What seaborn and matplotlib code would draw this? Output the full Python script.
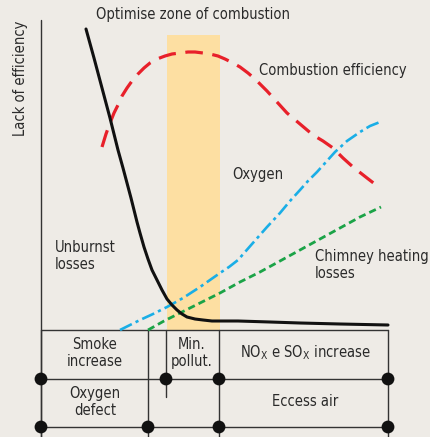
import matplotlib
matplotlib.use("Agg")
import matplotlib.pyplot as plt
import seaborn as sns

# Curve data (diagram units, y grows downward like the original sketch)
unburnt_x = [86, 94, 102, 110, 118, 123, 127, 131, 134, 137, 140, 144, 148, 152, 157, 162,
             167, 172, 177, 182, 187, 195, 203, 212, 220, 238, 270, 300, 340, 388]
unburnt_y = [29, 58, 88, 118, 150, 168, 183, 198, 210, 222, 233, 247, 259, 270, 280, 290,
             299, 305, 310, 314, 317, 319, 320, 321, 321, 321, 322, 323, 324, 325]

efficiency_x = [102, 106, 110, 114, 118, 122, 127, 132, 138, 144, 150, 157, 165, 172, 180,
                188, 195, 203, 210, 218, 225, 233, 240, 248, 255, 261, 267, 277, 287,
                300, 313, 323, 333, 343, 353, 367, 380]
efficiency_y = [147, 134, 123, 113, 105, 96, 88, 81, 74, 68, 63, 59, 56, 54, 53,
                52, 52, 53, 54, 56, 59, 63, 67, 73, 79, 85, 91, 102, 113,
                124, 135, 141, 148, 158, 167, 178, 188]

oxygen_x = [120, 130, 140, 153, 167, 183, 200, 210, 220, 229, 238, 252, 267, 280, 290, 300,
            308, 317, 326, 335, 347, 360, 370, 380]
oxygen_y = [330, 325, 320, 314, 307, 298, 287, 280, 273, 267, 260, 244, 227, 213, 201, 190,
            181, 172, 162, 152, 141, 132, 126, 122]

chimney_x = [148, 164, 180, 200, 220, 240, 260, 280, 300, 320, 340, 360, 381]
chimney_y = [330, 321, 313, 303, 293, 282, 272, 261, 250, 239, 228, 217, 207]

# Table grid
col_x = [41, 148, 219, 388]
row_y = [330, 379, 427]
dot_x = [41, 166, 219, 388, 41, 148, 219, 388]
dot_y = [379, 379, 379, 379, 427, 427, 427, 427]

sns.set_theme(style="white")
# DejaVu Sans Condensed via stretch, close to the narrow original lettering
plt.rcParams['font.family'] = ['DejaVu Sans']
plt.rcParams['font.stretch'] = 'condensed'
plt.rcParams['mathtext.fontset'] = 'custom'

bg = '#EEEBE6'
txt = '#2a2a2a'
fig = plt.figure(figsize=(4.31, 4.37), dpi=100, facecolor=bg)
ax = fig.add_axes([0, 0, 1, 1])
ax.set_facecolor(bg)
ax.set_xlim(0, 431)
ax.set_ylim(437, 0)
ax.axis('off')

# zona ottimale
ax.axvspan(167, 220, ymin=(437 - 330) / 437, ymax=(437 - 35) / 437,
           color='#FDDFA2', lw=0, zorder=1)

# asse verticale
ax.plot([41, 41], [20, 437], color='#333333', lw=1.0, zorder=3)

# tabella sotto il grafico
for y in row_y:
    ax.plot([41, 388], [y, y], color='#333333', lw=1.0, zorder=3)
for x in col_x:
    ax.plot([x, x], [330, 437], color='#333333', lw=1.0, zorder=3)
ax.plot([166, 166], [330, 397], color='#333333', lw=1.0, zorder=3)
sns.scatterplot(x=dot_x, y=dot_y, ax=ax, s=85, color='#111111',
                edgecolor='none', zorder=4)

# curve
sns.lineplot(x=chimney_x, y=chimney_y, ax=ax, sort=False, color='#1BA347',
             lw=2.0, linestyle=(0, (2.6, 1.5)), zorder=5)
sns.lineplot(x=oxygen_x, y=oxygen_y, ax=ax, sort=False, color='#1AAEE6',
             lw=1.9, linestyle=(0, (5.0, 1.6, 1.2, 1.6)), zorder=5)
sns.lineplot(x=efficiency_x, y=efficiency_y, ax=ax, sort=False, color='#E8202A',
             lw=2.3, linestyle=(0, (5.5, 3.0)), zorder=5)
sns.lineplot(x=unburnt_x, y=unburnt_y, ax=ax, sort=False, color='#111111',
             lw=2.2, zorder=6)

# etichette
fs = 10.5
ax.text(21, 78, 'Lack of efficiency', rotation=90, ha='center', va='center',
        fontsize=fs, color=txt)
ax.text(193, 15, 'Optimise zone of combustion', ha='center', va='center',
        fontsize=fs, color=txt)
ax.text(333, 70, 'Combustion efficiency', ha='center', va='center',
        fontsize=fs, color=txt)
ax.text(258, 175, 'Oxygen', ha='center', va='center', fontsize=fs, color=txt)
ax.text(55, 256, 'Unburnst\nlosses', ha='left', va='center', fontsize=fs,
        color=txt, linespacing=1.15)
ax.text(315, 265, 'Chimney heating\nlosses', ha='left', va='center',
        fontsize=fs, color=txt, linespacing=1.15)

ax.text(95, 353, 'Smoke\nincrease', ha='center', va='center', fontsize=fs,
        color=txt, linespacing=1.1)
ax.text(192, 353, 'Min.\npollut.', ha='center', va='center', fontsize=fs,
        color=txt, linespacing=1.1)
ax.text(305, 353, r'NO$_{\mathrm{X}}$ e SO$_{\mathrm{X}}$ increase',
        ha='center', va='center', fontsize=fs, color=txt)
ax.text(95, 402, 'Oxygen\ndefect', ha='center', va='center', fontsize=fs,
        color=txt, linespacing=1.1)
ax.text(305, 402, 'Eccess air', ha='center', va='center', fontsize=fs,
        color=txt)

fig.savefig('out.png', dpi=100, facecolor=bg)
